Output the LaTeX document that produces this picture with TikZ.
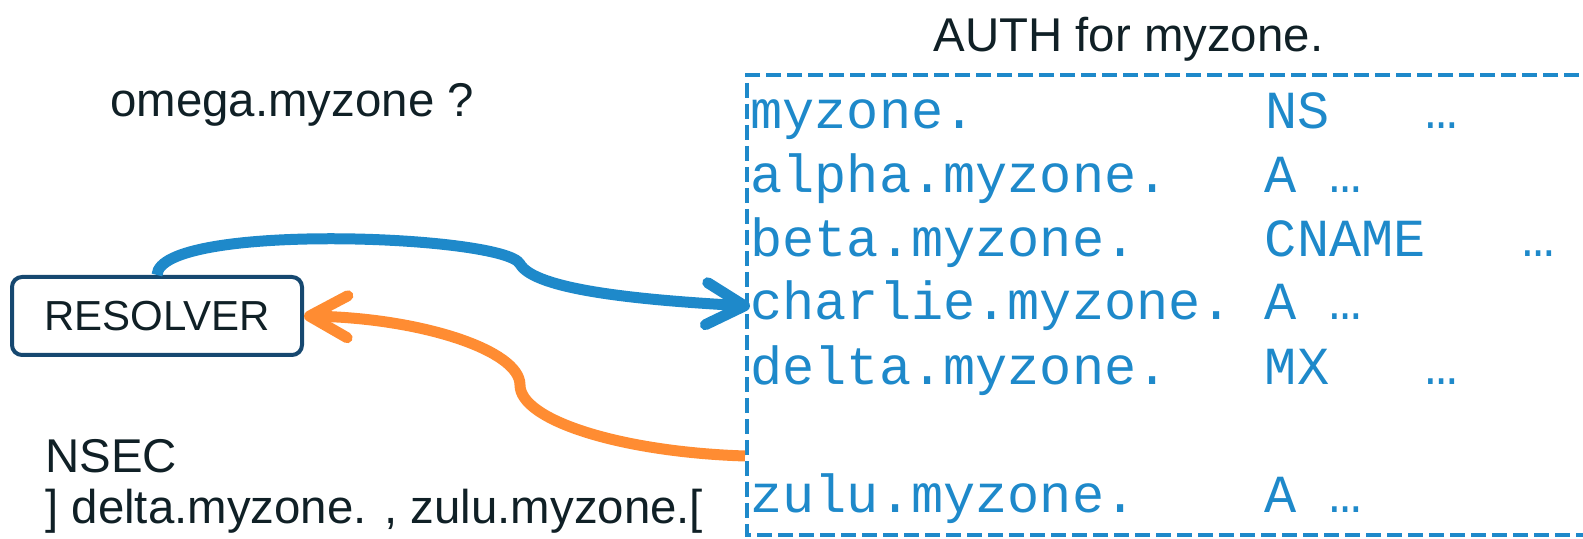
\documentclass[tikz,border=0pt]{standalone}
\usepackage{fontspec}
\setmainfont{Liberation Sans}
\setmonofont{Liberation Mono}
\usetikzlibrary{arrows.meta}
\definecolor{zoneblue}{RGB}{30,137,202}
\definecolor{answerorange}{RGB}{255,140,50}
\definecolor{boxnavy}{RGB}{22,72,112}
\definecolor{inkdark}{RGB}{16,32,38}

\begin{document}
\begin{tikzpicture}[x=0.5pt,y=-0.5pt,
		plain/.style={anchor=base west,inner sep=0pt,text=inkdark,font=\fontsize{23.7}{28}\selectfont},
		record/.style={anchor=base west,inner sep=0pt,text=zoneblue,font=\ttfamily\fontsize{26.8}{32}\selectfont},
		link/.style={line width=5.5pt},
		barb/.style={-{Straight Barb[round,length=19pt,width=21pt]}}]
		%%%%% START %%%%%
		\useasboundingbox (0,0) rectangle (1583,539);
		
		\node[draw=boxnavy,line width=2pt,rounded corners=5pt,minimum width=145pt,minimum height=39pt,inner sep=0pt,text=inkdark,font=\fontsize{21}{25}\selectfont] (resolver) at (157,316) {RESOLVER};
		
		\node[plain] (question) at (110,117) {omega.myzone ?};
		\node[plain] (authtitle) at (933,52) {AUTH for myzone.};
		\node[plain] (nsec) at (45,472) {NSEC};
		\node[plain] (interval) at (45,523) {] delta.myzone. , zulu.myzone.[};
		
		% the zone, cut at the right edge
		\begin{scope}
			\clip (0,0) rectangle (1583,539);
			\draw[zoneblue,line width=2pt,dash pattern=on 7.5pt off 3pt] (1600,75) -- (747,75) -- (747,535) -- (1600,535);
		\end{scope}
		
		\node[record] (apex) at (750,129) {myzone.~~~~~~~~~NS~~~…};
		\node[record] (alpha) at (750,193) {alpha.myzone.~~~A~…};
		\node[record] (beta) at (750,257) {beta.myzone.~~~~CNAME~~~…};
		\node[record] (charlie) at (750,320) {charlie.myzone.~A~…};
		\node[record] (delta) at (750,384) {delta.myzone.~~~MX~~~…};
		\node[record] (zulu) at (750,512) {zulu.myzone.~~~~A~…};
		
		% query and answer
		\coordinate (bendq) at (520,264);
		\coordinate (benda) at (520,385);
		\coordinate (gap) at (745,456);
		
		\draw[link,barb,zoneblue] (resolver.north) .. controls (160,222) and (505,235) .. (bendq) .. controls (535,290) and (640,300) .. (charlie.west);
		\draw[link,barb,answerorange] (gap) .. controls (620,452) and (520,420) .. (benda) .. controls (520,350) and (420,318) .. (resolver.east);
		
		%%%%% END %%%%%
\end{tikzpicture}
\end{document}
